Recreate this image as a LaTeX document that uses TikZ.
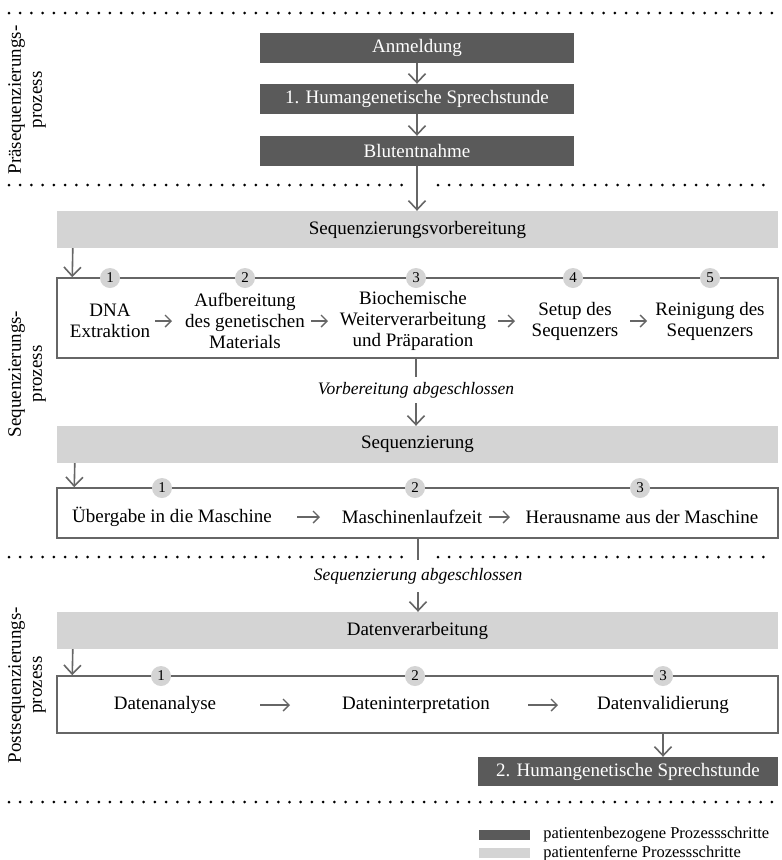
\documentclass[tikz,border=0pt]{standalone}
\usepackage{fontspec}
\setmainfont{Liberation Serif}
\usetikzlibrary{arrows.meta,calc}
\definecolor{darkbox}{HTML}{5A5A5A}
\definecolor{lightbox}{HTML}{D4D4D4}
\definecolor{linegray}{HTML}{666666}
\newcommand{\mainfs}{\fontsize{19}{21}\selectfont}
\newcommand{\itfs}{\fontsize{17.5}{20}\selectfont\itshape}
\newcommand{\numfs}{\fontsize{15}{15}\selectfont}
\newcommand{\legfs}{\fontsize{16.5}{18}\selectfont}
\begin{document}
\begin{tikzpicture}[x=1pt,y=-1pt,
 patbox/.style={fill=darkbox,text=white,inner sep=0pt,font=\mainfs,minimum height=30pt},
 bar/.style={fill=lightbox,minimum width=721pt,minimum height=37pt,inner sep=0pt,font=\mainfs},
 frame/.style={draw=linegray,line width=1.5pt,fill=white,minimum width=721pt,inner sep=0pt},
 num/.style={circle,fill=lightbox,minimum size=20pt,inner sep=0pt,font=\numfs},
 steptext/.style={align=center,font=\mainfs,inner sep=0pt},
 sidelabel/.style={align=center,font=\mainfs,rotate=90,inner sep=0pt},
 itlabel/.style={font=\itfs,inner xsep=0pt},
 vconn/.style={draw=linegray,line width=1.6pt},
 varrow/.style={vconn,-{Straight Barb[length=9pt,width=17pt]}},
 harrow/.style={draw=linegray,line width=1.4pt,-{Straight Barb[length=6pt,width=12pt]}},
 dotline/.style={line width=3pt,line cap=round,dash pattern=on 0pt off 11.22pt},
 swatch/.style={minimum width=51pt,minimum height=10pt,inner sep=0pt},
 legtext/.style={font=\legfs,anchor=west,inner sep=0pt}
 ]
\useasboundingbox (0,0) rectangle (782,860);

% dotted separators
\draw[dotline] (9,13) -- (772.5,13);
\draw[dotline] (9,185) -- (404.5,185);
\draw[dotline] (438,185) -- (772.5,185);
\draw[dotline] (9,557) -- (404.5,557);
\draw[dotline] (438,557) -- (772.5,557);
\draw[dotline] (9,802) -- (772.5,802);

% side labels
\node[sidelabel] (lab1) at (27,100) {Präsequenzierungs-\\prozess};
\node[sidelabel] (lab2) at (27,374) {Sequenzierungs-\\prozess};
\node[sidelabel] (lab3) at (27,685) {Postsequenzierungs-\\prozess};

% pre-sequencing
\node[patbox,minimum width=314pt] (anm) at (417,48) {Anmeldung};
\node[patbox,minimum width=314pt] (hum) at (417,99) {1. Humangenetische Sprechstunde};
\node[patbox,minimum width=314pt] (blut) at (417,151) {Blutentnahme};
\draw[varrow] (anm.south) -- (hum.north);
\draw[varrow] (hum.south) -- (blut.north);

% sequencing preparation
\node[bar] (bar1) at (417.5,229.5) {Sequenzierungsvorbereitung};
\draw[varrow] (blut.south) -- (blut.south |- bar1.north);
\node[frame,minimum height=80pt] (box1) at (417.5,318) {};
\draw[varrow] ($(bar1.south west)+(16,0)$) -- ($(box1.north west)+(16,0)$);
\node[num] (n11) at (110,278) {1};
\node[num] (n12) at (245,278) {2};
\node[num] (n13) at (416,278) {3};
\node[num] (n14) at (573,278) {4};
\node[num] (n15) at (710,278) {5};
\node[steptext] (s11) at (110,321) {DNA\\Extraktion};
\node[steptext] (s12) at (245,321) {Aufbereitung\\des genetischen\\Materials};
\node[steptext] (s13) at (413,321) {Biochemische\\Weiterverarbeitung\\und Präparation};
\node[steptext] (s14) at (575,321) {Setup des\\Sequenzers};
\node[steptext] (s15) at (710,321) {Reinigung des\\Sequenzers};
\coordinate (a11) at (155,321); \coordinate (b11) at (172,321);
\coordinate (a12) at (311,321); \coordinate (b12) at (328,321);
\coordinate (a13) at (498,321); \coordinate (b13) at (515,321);
\coordinate (a14) at (630,321); \coordinate (b14) at (647,321);
\draw[harrow] (a11) -- (b11);
\draw[harrow] (a12) -- (b12);
\draw[harrow] (a13) -- (b13);
\draw[harrow] (a14) -- (b14);

% prep done
\node[itlabel,inner ysep=5pt] (vb) at (416,390) {Vorbereitung abgeschlossen};
\draw[vconn] (vb.north |- box1.south) -- (vb.north);

% sequencing
\node[bar] (bar2) at (417.5,444.5) {Sequenzierung};
\draw[varrow] (vb.south) -- (vb.south |- bar2.north);
\node[frame,minimum height=50pt] (box2) at (417.5,513) {};
\draw[varrow] ($(bar2.south west)+(18,0)$) -- ($(box2.north west)+(18,0)$);
\node[num] (n21) at (162,488) {1};
\node[num] (n22) at (415,488) {2};
\node[num] (n23) at (640,488) {3};
\node[steptext] (s21) at (172,517) {Übergabe in die Maschine};
\node[steptext] (s22) at (412,517) {Maschinenlaufzeit};
\node[steptext] (s23) at (642,517) {Herausname aus der Maschine};
\coordinate (a21) at (297,517); \coordinate (b21) at (320,517);
\coordinate (a22) at (489,517); \coordinate (b22) at (510,517);
\draw[harrow] (a21) -- (b21);
\draw[harrow] (a22) -- (b22);

% sequencing done
\node[itlabel,inner ysep=8pt] (sa) at (418,576) {Sequenzierung abgeschlossen};
\draw[vconn] (sa.north |- box2.south) -- (sa.north);

% post-sequencing
\node[bar] (bar3) at (417.5,630.5) {Datenverarbeitung};
\draw[varrow] (sa.south) -- (sa.south |- bar3.north);
\node[frame,minimum height=57pt] (box3) at (417.5,704.5) {};
\draw[varrow] ($(bar3.south west)+(16,0)$) -- ($(box3.north west)+(16,0)$);
\node[num] (n31) at (161,676) {1};
\node[num] (n32) at (415,676) {2};
\node[num] (n33) at (663,676) {3};
\node[steptext] (s31) at (165,705) {Datenanalyse};
\node[steptext] (s32) at (416,705) {Dateninterpretation};
\node[steptext] (s33) at (663,705) {Datenvalidierung};
\coordinate (a31) at (260,705); \coordinate (b31) at (290,705);
\coordinate (a32) at (528,705); \coordinate (b32) at (558,705);
\draw[harrow] (a31) -- (b31);
\draw[harrow] (a32) -- (b32);

\node[patbox,minimum width=300pt,minimum height=29pt] (fin) at (628,771.5) {2. Humangenetische Sprechstunde};
\draw[varrow] (s33.south |- box3.south) -- (s33.south |- fin.north);

% legend
\node[swatch,fill=darkbox] (lg1) at (504.5,835) {};
\node[swatch,fill=lightbox] (lg2) at (504.5,853) {};
\node[legtext] (lt1) at ($(lg1.east)+(13,0)$) {patientenbezogene Prozessschritte};
\node[legtext] (lt2) at ($(lg2.east)+(13,0)$) {patientenferne Prozessschritte};
\end{tikzpicture}
\end{document}
